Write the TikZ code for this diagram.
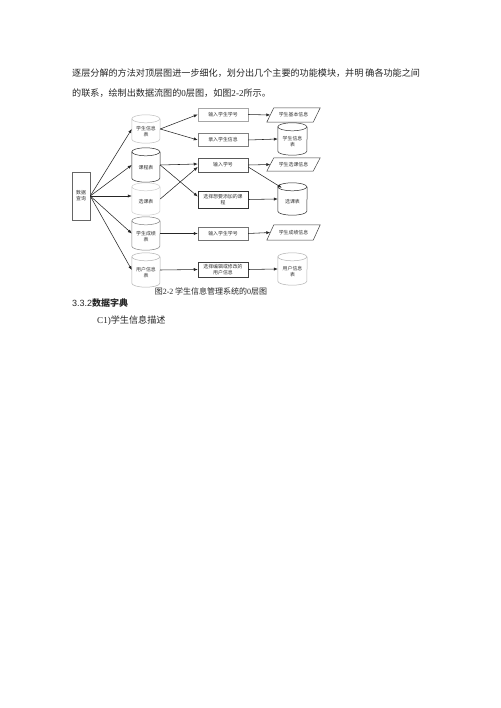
\documentclass[tikz,border=0pt]{standalone}
\usepackage{fontspec}
\setmainfont{Liberation Serif}
\setsansfont{Liberation Sans}
\newfontfamily\cjk{Noto Sans CJK SC}
\usetikzlibrary{arrows.meta}
\tikzset{
  arr/.style={-{Latex[length=4pt,width=3.2pt]}, line width=0.55pt, draw=black!85},
  tx/.style={font=\cjk\fontsize{4.9}{5.8}\selectfont, text=black!80, align=center, inner sep=0pt},
  pbox/.style={tx, draw, line width=0.5pt, minimum width=50pt},
  body/.style={font=\cjk\fontsize{9.1}{11}\selectfont, text=black!85, inner sep=0pt, anchor=west},
}
% name, cx, cy, width, height, colour, text
\newcommand\mycyl[7]{%
  \node[minimum width=#4pt, minimum height=#5pt, inner sep=0pt] (#1) at (#2,#3) {};
  \node[tx] (#1-t) at ([yshift=-3pt]#1.center) {#7};
  \draw[#6, line width=0.5pt] ([yshift=-4pt]#1.north west) arc[start angle=180, end angle=-180, x radius=#4pt/2, y radius=4pt];
  \draw[#6, line width=0.5pt] ([yshift=-4pt]#1.north west) -- ([yshift=4pt]#1.south west)
     arc[start angle=180, end angle=360, x radius=#4pt/2, y radius=4pt] -- ([yshift=-4pt]#1.north east);
}
% name, cx, cy, height, text
\newcommand\mypar[5]{%
  \node[tx, minimum width=46pt, minimum height=#4pt] (#1) at (#2,#3) {#5};
  \draw[black!75, line width=0.5pt] ([xshift=-3.5pt]#1.south west) -- ([xshift=3.5pt]#1.north west)
     -- ([xshift=3.5pt]#1.north east) -- ([xshift=-3.5pt]#1.south east) -- cycle;
}
\begin{document}
\begin{tikzpicture}[x=1pt, y=-1pt]
\useasboundingbox (0,0) rectangle (500,708);
\fill[white] (0,0) rectangle (500,708);

% body text
\node[body] (l1) at (72,73) {逐层分解的方法对顶层图进一步细化，划分出几个主要的功能模块，并明 确各功能之间};
\node[body] (l2) at (72,93) {的联系，绘制出数据流图的{\rmfamily 0}层图，如图{\rmfamily 2-2}所示。};

% source
\node[tx, draw=black!60, line width=0.5pt, minimum width=18pt, minimum height=48pt] (dq) at (81,196) {数据\\查询};

% left stores
\mycyl{s1}{146}{129}{28}{28}{black!25}{学生信息\\表}
\mycyl{s2}{146}{165}{28}{34}{black!85}{课程表}
\mycyl{s3}{146}{199}{28}{32}{black!20}{选课表}
\mycyl{s4}{146}{233.5}{28}{33}{black!50}{学生成绩\\表}
\mycyl{s5}{146}{270}{28}{34}{black!30}{用户信息\\表}

% processes
\node[pbox, draw=black!35, minimum height=13pt] (p1) at (223,114.5) {输入学生学号};
\node[pbox, draw=black!50, minimum height=12.5pt] (p2) at (223,140) {录入学生信息};
\node[pbox, draw=black!65, minimum height=14pt] (p3) at (223,165) {输入学号};
\node[pbox, draw=black!80, minimum height=17pt] (p4) at (223,199.5) {选择想要添加的课\\程};
\node[pbox, draw=black!55, minimum height=13pt] (p5) at (223,233.5) {输入学生学号};
\node[pbox, draw=black!75, minimum height=15pt] (p6) at (223,269.5) {选择编辑或修改的\\用户信息};

% outputs
\mypar{o1}{293.5}{115}{14}{学生基本信息}
\mycyl{o2}{292.5}{139}{29}{32}{black!80}{学生信息\\表}
\mypar{o3}{293.5}{164.5}{13}{学生选课信息}
\mycyl{o4}{292.5}{199}{29}{32}{black!85}{选课表}
\mypar{o5}{293.5}{232.5}{15}{学生成绩信息}
\mycyl{o6}{292.5}{269}{29}{32}{black!30}{用户信息\\表}

% arrows
\draw[arr] (dq.east) -- (s1.west);
\draw[arr] (dq.east) -- (s2.west);
\draw[arr] (dq.east) -- ([yshift=3pt]s3.west);
\draw[arr] (dq.east) -- (s4.west);
\draw[arr] (dq.east) -- (s5.west);

\draw[arr] (s1.east) -- (p1.west);
\draw[arr] (s1.east) -- (p2.west);
\draw[arr] (s2.east) -- ([yshift=1pt]p3.west);
\draw[arr] (s2.east) -- ([yshift=3pt]p4.west);
\draw[arr] (s3.east) -- ([yshift=-2pt]p3.west);
\draw[arr] (s4.east) -- (p5.west);
\draw[arr] (s5.east) -- (p6.west);

\draw[arr] (p1.east) -- (o1.west);
\draw[arr] (p2.east) -- (o2.west);
\draw[arr] (p3.east) -- (o3.west);
\draw[arr] ([yshift=-2pt]p3.east) -- ([xshift=4pt,yshift=-5pt]o4.north west);
\draw[arr] (p4.east) -- (o4.west);
\draw[arr] (p5.east) -- (o5.west);
\draw[arr] (p6.east) -- (o6.west);

% caption and headings
\node[font=\cjk\fontsize{8}{9}\selectfont, text=black!85, inner sep=0pt] (cap) at (211,291) {图{\rmfamily 2-2} 学生信息管理系统的{\rmfamily 0}层图};
\node[body, font=\cjk\fontsize{9}{11}\selectfont] (h1) at (72,303.5) {{\sffamily 3.3.2}{\bfseries 数据字典}};
\node[body] (h2) at (97,321) {{\rmfamily C1)}学生信息描述};
\end{tikzpicture}
\end{document}
